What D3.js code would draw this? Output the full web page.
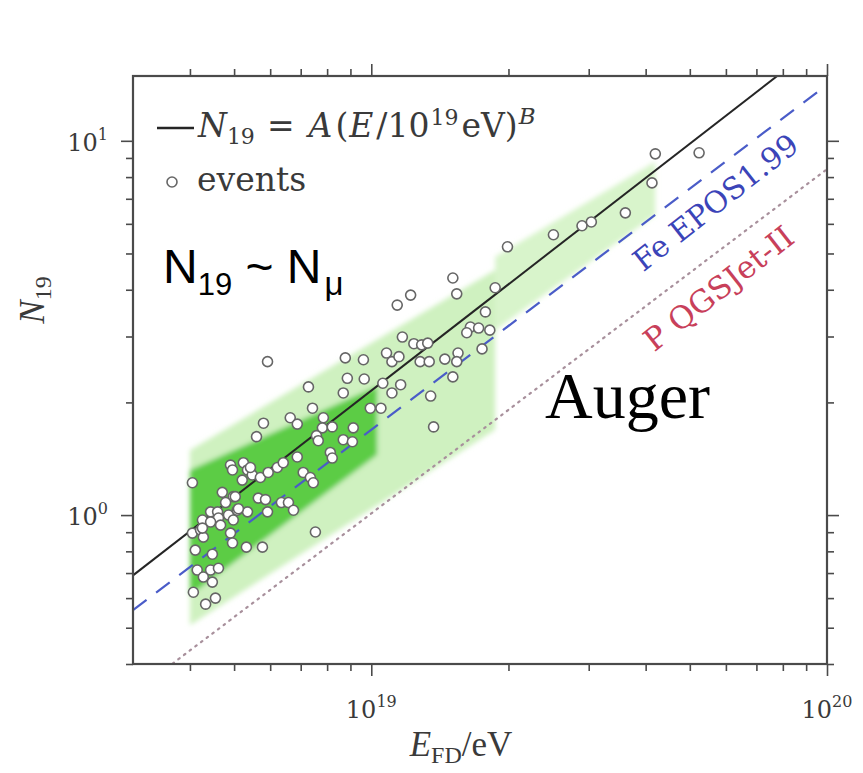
<!DOCTYPE html>
<html>
<head>
<meta charset="utf-8">
<script src="https://cdn.jsdelivr.net/npm/d3@7"></script>
<style>
  body { margin: 0; background: #fff; }
  svg { display: block; }
</style>
</head>
<body>
<script>
// Muon content N19 of inclined showers versus fluorescence energy.
// Energies are given in units of 1e18 eV.

const eventE = [
  5.92, 7.28, 7.43, 5.80, 5.60, 6.64, 6.88, 7.85, 7.81, 8.21, 7.58, 7.65,
  8.68, 8.86, 8.77, 9.61, 9.65, 10.8, 11.1, 11.5, 11.7, 12.4, 12.9, 13.3,
  12.8, 13.4, 14.5, 10.6, 11.1, 11.6, 13.5, 13.7, 9.95, 10.5, 8.68, 9.13,
  9.09, 8.13, 8.21, 6.88, 6.22, 6.41, 4.91, 4.96, 5.24, 5.35, 5.48, 5.71,
  5.94, 5.21, 7.09, 7.35, 7.46, 4.05, 4.71, 4.98, 5.65, 5.86, 6.35, 6.58,
  6.75, 4.44, 4.60, 4.86, 5.08, 5.35, 5.92, 4.26, 4.62, 4.44, 4.67, 4.98,
  4.05, 4.22, 4.28, 4.91, 4.96, 5.32, 5.77, 7.54, 4.11, 4.48, 4.15, 4.44,
  4.62, 4.79, 5.03, 5.11, 4.26, 4.28, 4.48, 4.07, 5.43, 4.33, 4.55,
  42.0, 41.3, 36.1, 29.0, 30.4, 25.1, 19.9, 15.1, 15.4, 12.2, 11.4, 18.7,
  17.8, 16.5, 17.2, 18.2, 16.2, 17.5, 15.5, 15.4, 15.1, 52.4
];
const eventN = [
  2.57, 2.20, 1.93, 1.76, 1.62, 1.82, 1.75, 1.82, 1.71, 1.72, 1.63, 1.58,
  2.12, 2.32, 2.63, 2.60, 2.31, 2.71, 2.57, 2.65, 2.99, 2.87, 2.85, 2.88,
  2.57, 2.57, 2.61, 2.25, 2.12, 2.23, 2.08, 1.72, 1.93, 1.93, 1.59, 1.71,
  1.57, 1.47, 1.42, 1.43, 1.34, 1.38, 1.36, 1.32, 1.38, 1.32, 1.28, 1.26,
  1.30, 1.24, 1.30, 1.26, 1.22, 1.22, 1.15, 1.12, 1.11, 1.10, 1.08, 1.08,
  1.03, 1.02, 1.02, 1.00, 1.03, 1.02, 1.02, 0.970, 0.982, 0.958, 0.940, 0.970,
  0.895, 0.912, 0.873, 0.895, 0.842, 0.821, 0.821, 0.901, 0.806, 0.786, 0.713, 0.713,
  0.721, 1.08, 1.12, 1.04, 0.923, 0.683, 0.662, 0.622, 1.34, 0.578, 0.600,
  9.23, 7.72, 6.42, 5.93, 6.07, 5.61, 5.21, 4.30, 3.90, 3.87, 3.64, 4.05,
  3.49, 3.18, 3.16, 3.12, 3.07, 2.78, 2.71, 2.57, 2.34, 9.29
];

// Power laws N19 = A (E / 1e19 eV)^B
const fitLaw = { A: 2.15, B: 0.944 };
const feLaw  = { A: 1.69, B: 0.922 };
const pLaw   = { A: 1.01, B: 0.92 };

// Shaded expectation bands: [E start, E end] with lower / upper N at each end
const outerBandE1 = [4.0, 18.7];
const outerBandLo1 = [0.508, 1.69];
const outerBandHi1 = [1.49, 4.52];
const outerBandE2 = [18.7, 42.0];
const outerBandLo2 = [3.12, 6.34];
const outerBandHi2 = [4.90, 8.79];
const innerBandE = [4.0, 10.3];
const innerBandLo = [0.61, 1.45];
const innerBandHi = [1.32, 2.21];

// Axis ticks
const xMajor = [10, 100];
const xMajorExp = ["19", "20"];
const xMinor = [4, 5, 6, 7, 8, 9, 20, 30, 40, 50, 60, 70, 80, 90];
const yMajor = [1, 10];
const yMajorExp = ["0", "1"];
const yMinor = [0.4, 0.5, 0.6, 0.7, 0.8, 0.9, 2, 3, 4, 5, 6, 7, 8, 9];

const W = 863, H = 773;
const plot = { left: 133, right: 827, top: 76, bottom: 664 };

const svg = d3.select("body").append("svg").attr("width", W).attr("height", H);

const x = d3.scaleLog().domain([3, 100]).range([plot.left, plot.right]);
const y = d3.scaleLog().domain([0.4, 14.9]).range([plot.bottom, plot.top]);

const defs = svg.append("defs");
defs.append("clipPath").attr("id", "plotclip")
  .append("rect").attr("x", plot.left).attr("y", plot.top)
  .attr("width", plot.right - plot.left).attr("height", plot.bottom - plot.top);
defs.append("filter").attr("id", "soft").attr("x", "-10%").attr("y", "-10%")
  .attr("width", "120%").attr("height", "120%")
  .append("feGaussianBlur").attr("stdDeviation", 2.5);

const inner = svg.append("g").attr("clip-path", "url(#plotclip)");

// Bands
function band(E, lo, hi) {
  const rows = E.map((e, i) => ({ e, lo: lo[i], hi: hi[i] }));
  return d3.area().x(d => x(d.e)).y0(d => y(d.lo)).y1(d => y(d.hi))(rows);
}
const bands = inner.append("g").attr("filter", "url(#soft)");
bands.append("path").attr("d", band(outerBandE1, outerBandLo1, outerBandHi1))
  .attr("fill", "#cff1c0");
bands.append("path").attr("d", band(outerBandE2, outerBandLo2, outerBandHi2))
  .attr("fill", "#d8f4cb");
bands.append("path").attr("d", band(innerBandE, innerBandLo, innerBandHi))
  .attr("fill", "#5ccc44");

// Power-law lines across the energy range
function law(p) {
  const ends = x.domain().map(e => ({ e, n: p.A * Math.pow(e / 10, p.B) }));
  return d3.line().x(d => x(d.e)).y(d => y(d.n))(ends);
}
inner.append("path").attr("d", law(pLaw)).attr("fill", "none")
  .attr("stroke", "#a8909c").attr("stroke-width", 2.2)
  .attr("stroke-dasharray", "1.6,5.5").attr("stroke-linecap", "round");
inner.append("path").attr("d", law(feLaw)).attr("fill", "none")
  .attr("stroke", "#4a5cc8").attr("stroke-width", 2.2)
  .attr("stroke-dasharray", "17,12");
inner.append("path").attr("d", law(fitLaw)).attr("fill", "none")
  .attr("stroke", "#252525").attr("stroke-width", 2);

// Events
const events = eventE.map((e, i) => ({ e, n: eventN[i] }));
inner.append("g").selectAll("circle").data(events).join("circle")
  .attr("cx", d => x(d.e)).attr("cy", d => y(d.n)).attr("r", 5)
  .attr("fill", "#fff").attr("stroke", "#666").attr("stroke-width", 1.6);

// Frame and ticks
const axisColor = "#4a4a4a";
function ticks(axisFn, scale, values, size, translate) {
  const a = axisFn(scale).tickValues(values).tickSize(size).tickFormat("");
  const g = svg.append("g").attr("transform", translate).call(a);
  g.select(".domain").remove();
  g.selectAll(".tick line").attr("stroke", axisColor).attr("stroke-width", 1.6);
}
ticks(d3.axisBottom, x, xMajor, 12, `translate(0,${plot.bottom})`);
ticks(d3.axisBottom, x, xMinor, 7, `translate(0,${plot.bottom})`);
ticks(d3.axisTop, x, xMajor, 12, `translate(0,${plot.top})`);
ticks(d3.axisTop, x, xMinor, 7, `translate(0,${plot.top})`);
ticks(d3.axisLeft, y, yMajor, 12, `translate(${plot.left},0)`);
ticks(d3.axisLeft, y, yMinor, 7, `translate(${plot.left},0)`);
ticks(d3.axisRight, y, yMajor, 12, `translate(${plot.right},0)`);
ticks(d3.axisRight, y, yMinor, 7, `translate(${plot.right},0)`);

svg.append("rect").attr("x", plot.left).attr("y", plot.top)
  .attr("width", plot.right - plot.left).attr("height", plot.bottom - plot.top)
  .attr("fill", "none").attr("stroke", axisColor).attr("stroke-width", 2.2);

const book = "'DejaVu Serif', serif";
const times = "'Liberation Serif', 'Times New Roman', serif";
const textColor = "#3a3a3a";

// Tick labels 10^k
xMajor.forEach((v, i) => {
  const t = svg.append("text").attr("x", x(v)).attr("y", 718)
    .attr("text-anchor", "middle").attr("font-family", book)
    .attr("font-size", 24).attr("fill", textColor);
  t.append("tspan").text("10");
  t.append("tspan").attr("font-size", 16).attr("dy", -11).text(xMajorExp[i]);
});
yMajor.forEach((v, i) => {
  const t = svg.append("text").attr("x", 108).attr("y", y(v) + 10)
    .attr("text-anchor", "end").attr("font-family", book)
    .attr("font-size", 24).attr("fill", textColor);
  t.append("tspan").text("10");
  t.append("tspan").attr("font-size", 16).attr("dy", -11).text(yMajorExp[i]);
});

// Axis titles
const xt = svg.append("text").attr("x", 461).attr("y", 756)
  .attr("text-anchor", "middle").attr("font-family", times)
  .attr("font-size", 35).attr("fill", textColor);
xt.append("tspan").attr("font-style", "italic").text("E");
xt.append("tspan").attr("font-size", 24).attr("dy", 7).text("FD");
xt.append("tspan").attr("dy", -7).text("/eV");

const yt = svg.append("text").attr("transform", "translate(44,300) rotate(-90)")
  .attr("text-anchor", "middle").attr("font-family", times)
  .attr("font-size", 35).attr("fill", textColor);
yt.append("tspan").attr("font-style", "italic").text("N");
yt.append("tspan").attr("font-size", 24).attr("dy", 7).text("19");

// Legend
svg.append("line").attr("x1", 157).attr("x2", 194).attr("y1", 128).attr("y2", 128)
  .attr("stroke", "#252525").attr("stroke-width", 2.6);
const lg = svg.append("text").attr("x", 198).attr("y", 137)
  .attr("font-family", book).attr("font-size", 33).attr("fill", textColor);
lg.append("tspan").attr("font-style", "italic").text("N");
lg.append("tspan").attr("font-size", 22).attr("dy", 7).text("19");
lg.append("tspan").attr("dy", -7).attr("dx", 12).text("=");
lg.append("tspan").attr("font-style", "italic").attr("dx", 14).text("A");
lg.append("tspan").attr("dx", 3).text("(");
lg.append("tspan").attr("font-style", "italic").attr("dx", 1).text("E");
lg.append("tspan").attr("dx", 3).text("/10");
lg.append("tspan").attr("font-size", 22).attr("dy", -12).attr("dx", 1).text("19");
lg.append("tspan").attr("dy", 12).attr("dx", 3).text("eV)");
lg.append("tspan").attr("font-size", 23).attr("font-style", "italic").attr("dy", -13).attr("dx", 1).text("B");

svg.append("circle").attr("cx", 172).attr("cy", 182).attr("r", 5)
  .attr("fill", "#fff").attr("stroke", "#666").attr("stroke-width", 1.6);
svg.append("text").attr("x", 197).attr("y", 191).attr("font-family", book)
  .attr("font-size", 33).attr("fill", textColor).text("events");

// Model labels along their lines
function pixelAngle(p) {
  const [e0, e1] = [10, 40];
  const dx = x(e1) - x(e0);
  const dy = y(p.A * Math.pow(e1 / 10, p.B)) - y(p.A * Math.pow(e0 / 10, p.B));
  return Math.atan2(dy, dx) * 180 / Math.PI;
}
const feAng = pixelAngle(feLaw), pAng = pixelAngle(pLaw);
svg.append("text")
  .attr("transform", `translate(${x(39.5)},${y(4.45)}) rotate(${feAng - 1})`)
  .attr("font-family", book).attr("font-size", 30).attr("fill", "#3b44b8")
  .text("Fe EPOS1.99");
svg.append("text")
  .attr("transform", `translate(${x(41.8)},${y(2.72)}) rotate(${pAng - 1})`)
  .attr("font-family", book).attr("font-size", 31).attr("fill", "#c8405a")
  .text("P QGSJet-II");

// Annotations
const nn = svg.append("text").attr("x", 163).attr("y", 283)
  .attr("font-family", "'Liberation Sans', Arial, sans-serif")
  .attr("font-size", 48).attr("fill", "#000");
nn.append("tspan").text("N");
nn.append("tspan").attr("font-size", 31).attr("dy", 12).text("19");
nn.append("tspan").attr("dy", -12).text(" ~ N");
nn.append("tspan").attr("font-size", 33).attr("dy", 12).attr("dx", 3).text("μ");

svg.append("text").attr("x", 545).attr("y", 418)
  .attr("font-family", times)
  .attr("font-size", 66).attr("fill", "#000").text("Auger");
</script>
</body>
</html>
